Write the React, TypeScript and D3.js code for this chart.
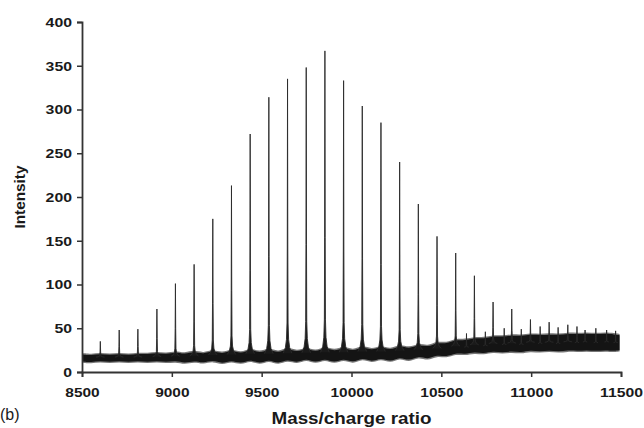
import React, { useEffect, useRef } from 'react';
import * as d3 from 'd3';

// charge-state peaks (m/z, intensity at top)
const peakMz = [8602, 8707, 8811, 8917, 9020, 9124, 9228, 9332, 9436, 9540, 9644, 9748, 9852,
  9956, 10060, 10164, 10268, 10372, 10476, 10580, 10684, 10788, 10892, 10996, 11100, 11204];
const peakHeight = [35, 48, 49, 72, 101, 123, 175, 213, 272, 314, 335, 348, 367,
  333, 304, 285, 240, 192, 155, 136, 110, 80, 72, 60, 57, 54];

// small spikes in the noisy tail
const minorMz = [10640, 10745, 10850, 10945, 11050, 11150, 11255, 11300, 11360, 11420, 11470];
const minorHeight = [44, 46, 50, 49, 52, 51, 52, 48, 50, 48, 47];

// noise band envelope, read at peaks and valleys
const bandMz = [8505, 8550, 8602, 8654, 8707, 8759, 8811, 8864, 8917, 8968, 9020, 9072, 9124, 9176,
  9228, 9280, 9332, 9384, 9436, 9488, 9540, 9592, 9644, 9696, 9748, 9800, 9852, 9904, 9956, 10008,
  10060, 10112, 10164, 10216, 10268, 10320, 10372, 10424, 10476, 10528, 10580, 10632, 10684, 10736,
  10788, 10840, 10892, 10944, 10996, 11048, 11100, 11152, 11204, 11256, 11308, 11360, 11412, 11464, 11492];
const bandLow = [12, 11, 13, 11, 13, 11, 13, 11, 13, 11, 13, 10, 13, 10,
  14, 9, 14, 9, 15, 9, 15, 9, 15, 10, 16, 10, 16, 10, 16, 10,
  17, 11, 17, 11, 18, 12, 19, 14, 20, 17, 22, 20, 23, 21,
  24, 22, 24, 22, 25, 23, 25, 23, 25, 24, 25, 24, 25, 24, 25];
const bandHigh = [20, 19, 21, 19, 21, 19, 21, 20, 22, 20, 23, 20, 24, 20,
  25, 20, 26, 20, 27, 21, 27, 21, 28, 22, 28, 22, 29, 23, 29, 23,
  30, 24, 30, 24, 31, 26, 32, 28, 34, 32, 37, 36, 39, 38,
  41, 40, 42, 41, 43, 42, 43, 42, 44, 43, 44, 43, 44, 43, 42];

const xTicks = [8500, 9000, 9500, 10000, 10500, 11000, 11500];
const yTicks = [0, 50, 100, 150, 200, 250, 300, 350, 400];

// shape of a single spike, offsets in m/z and fraction of its height
const shapeDx = [-24, -12, -6, -3, -1.5, 0, 1.5, 3, 6, 12, 24];
const shapeF = [0, 0.02, 0.05, 0.11, 0.38, 1, 0.38, 0.11, 0.05, 0.02, 0];

export default function App() {
  const ref = useRef<SVGSVGElement>(null);
  const width = 644;
  const height = 428;

  useEffect(() => {
    const svg = d3.select(ref.current);
    svg.selectAll('*').remove();

    const margin = { top: 22, right: 23, bottom: 56, left: 82 };
    const x = d3.scaleLinear().domain([8500, 11500]).range([margin.left, width - margin.right]);
    const y = d3.scaleLinear().domain([0, 400]).range([height - margin.bottom, margin.top]);

    const loAt = d3.scaleLinear().domain(bandMz).range(bandLow);
    const hiAt = d3.scaleLinear().domain(bandMz).range(bandHigh);
    const baseAt = (m: number) => (loAt(m) + hiAt(m)) / 2;

    // noise band
    const band = bandMz.map((m, i) => ({ m, lo: bandLow[i], hi: bandHigh[i] }));
    svg.append('path')
      .datum(band)
      .attr('fill', '#777')
      .attr('d', d3.area<any>().curve(d3.curveBasis).x(d => x(d.m)).y0(d => y(d.lo - 1.5)).y1(d => y(d.hi + 1.5)));
    svg.append('path')
      .datum(band)
      .attr('fill', '#141414')
      .attr('d', d3.area<any>().curve(d3.curveBasis).x(d => x(d.m)).y0(d => y(d.lo)).y1(d => y(d.hi)));

    const spike = d3.line<[number, number]>().x(d => x(d[0])).y(d => y(d[1]));
    const drawSpike = (m: number, h: number, w: number) => {
      const b = baseAt(m);
      const pts: [number, number][] = shapeDx.map((dx, i) => [m + dx * w, b + (h - b) * shapeF[i]]);
      svg.append('path')
        .attr('d', spike(pts))
        .attr('fill', '#1a1a1a')
        .attr('stroke', '#2a2a2a')
        .attr('stroke-width', 0.9)
        .attr('stroke-linejoin', 'round');
    };
    peakMz.forEach((m, i) => drawSpike(m, peakHeight[i], 1));
    minorMz.forEach((m, i) => drawSpike(m, minorHeight[i], 0.5));

    // axes
    const axisColor = '#333';
    const fontFam = 'Liberation Sans, Arial, sans-serif';
    const gx = svg.append('g').attr('transform', `translate(0,${y(0)})`)
      .call(d3.axisBottom(x).tickValues(xTicks).tickSize(5).tickPadding(10).tickFormat(d3.format('d')));
    const gy = svg.append('g').attr('transform', `translate(${x(8500)},0)`)
      .call(d3.axisLeft(y).tickValues(yTicks).tickSize(5).tickPadding(5));
    [gx, gy].forEach(g => {
      g.select('.domain').attr('stroke', axisColor).attr('stroke-width', 1.8);
      g.selectAll('.tick line').attr('stroke', axisColor).attr('stroke-width', 1.5);
      g.selectAll('.tick text')
        .attr('fill', '#1a1a1a')
        .style('font-family', fontFam)
        .style('font-size', '13.5px')
        .style('font-weight', 'bold');
    });
    // the original lettering is a little wider than Liberation Sans
    gx.selectAll<SVGTextElement, number>('.tick text')
      .attr('textLength', d => String(d).length * 8.6)
      .attr('lengthAdjust', 'spacingAndGlyphs');
    gy.selectAll<SVGTextElement, number>('.tick text')
      .attr('textLength', d => String(d).length * 8.8)
      .attr('lengthAdjust', 'spacingAndGlyphs');

    svg.append('text')
      .attr('transform', `translate(25,${(y(0) + y(400)) / 2}) rotate(-90)`)
      .attr('text-anchor', 'middle')
      .attr('textLength', 63)
      .attr('lengthAdjust', 'spacingAndGlyphs')
      .style('font-family', fontFam).style('font-size', '15px').style('font-weight', 'bold')
      .attr('fill', '#1a1a1a')
      .text('Intensity');

    svg.append('text')
      .attr('x', (x(8500) + x(11500)) / 2)
      .attr('y', 424)
      .attr('text-anchor', 'middle')
      .attr('textLength', 160)
      .attr('lengthAdjust', 'spacingAndGlyphs')
      .style('font-family', fontFam).style('font-size', '16px').style('font-weight', 'bold')
      .attr('fill', '#1a1a1a')
      .text('Mass/charge ratio');

    svg.append('text')
      .attr('x', 0)
      .attr('y', 420)
      .style('font-family', fontFam).style('font-size', '16px')
      .attr('fill', '#1a1a1a')
      .text('(b)');
  }, []);

  return (
    <svg ref={ref} width={width} height={height}
      style={{ position: 'absolute', left: 0, top: 0, background: '#fff' }} />
  );
}
